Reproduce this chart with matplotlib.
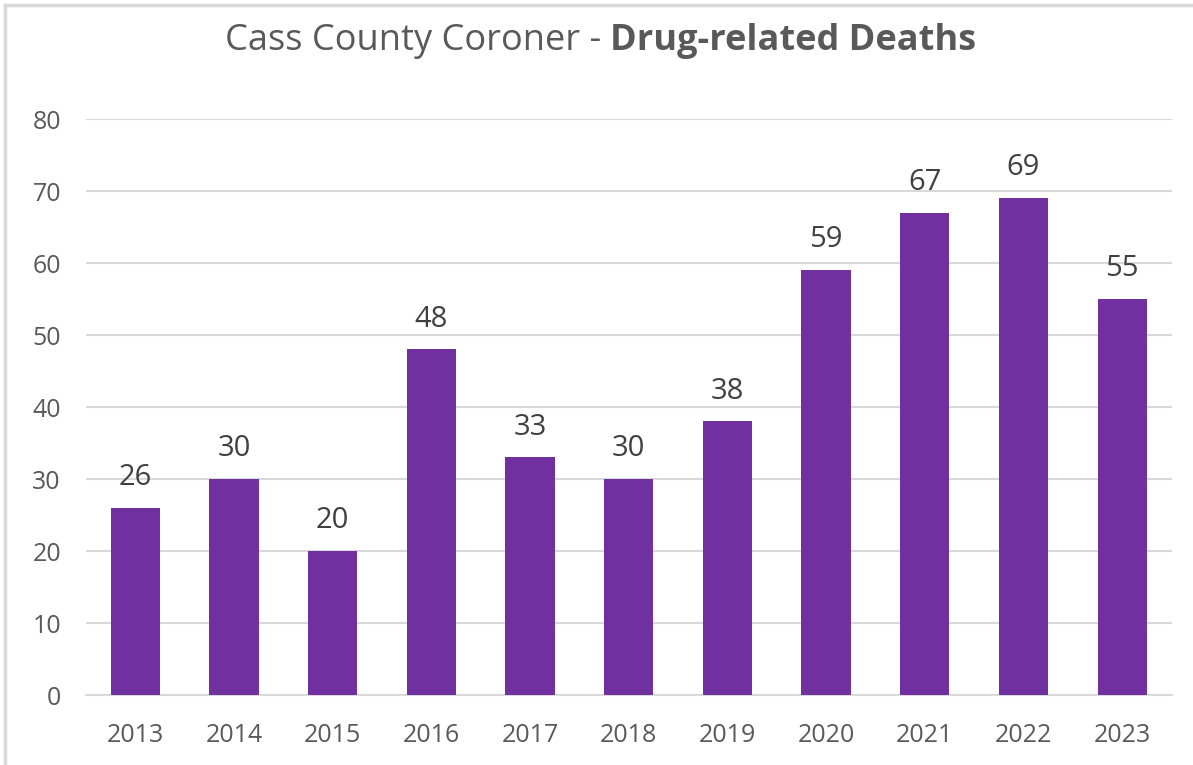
import matplotlib.pyplot as plt
from matplotlib.lines import Line2D

# Drug-related deaths per year
years = ['2013', '2014', '2015', '2016', '2017', '2018', '2019', '2020', '2021', '2022', '2023']
deaths = [26, 30, 20, 48, 33, 30, 38, 59, 67, 69, 55]
yticks = [0, 10, 20, 30, 40, 50, 60, 70, 80]

plt.rcParams['font.family'] = ['Open Sans', 'DejaVu Sans']

fig = plt.figure(figsize=(11.93, 7.65), dpi=100)
ax = fig.add_axes([0.072, 0.0915, 0.910, 0.7529])

x = range(len(years))
bars = ax.bar(x, deaths, width=0.5, color='#7030A0', zorder=3)

for xi, v in zip(x, deaths):
    ax.text(xi, v + 2.2, str(v), ha='center', va='bottom',
            fontsize=21, color='#404040', zorder=4)

ax.set_xlim(-0.5, len(years) - 0.5)
ax.set_ylim(0, 80)
ax.set_yticks(yticks)
ax.set_xticks(list(x))
ax.set_xticklabels(years)
ax.tick_params(axis='both', length=0, labelsize=18, colors='#595959')
ax.tick_params(axis='x', pad=20)
ax.tick_params(axis='y', pad=18)

ax.grid(axis='y', color='#D9D9D9', linewidth=1.5, zorder=0)
for s in ['top', 'right', 'left']:
    ax.spines[s].set_visible(False)
ax.spines['bottom'].set_color('#D9D9D9')
ax.spines['bottom'].set_linewidth(1.5)

# title: normal part + bold part
fig.text(0.5117, 0.947, 'Cass County Coroner - ', ha='right', va='center',
         fontsize=26, color='#595959')
fig.text(0.5117, 0.947, 'Drug-related Deaths', ha='left', va='center',
         fontsize=26, color='#595959', fontweight='bold')

# chart frame (only top and left edge visible)
fig.add_artist(Line2D([0.0045, 1], [0.9935, 0.9935], color='#D9D9D9', linewidth=2.5,
                      transform=fig.transFigure))
fig.add_artist(Line2D([0.0045, 0.0045], [0, 0.9935], color='#D9D9D9', linewidth=2.5,
                      transform=fig.transFigure))

fig.savefig('out.png', dpi=100)
